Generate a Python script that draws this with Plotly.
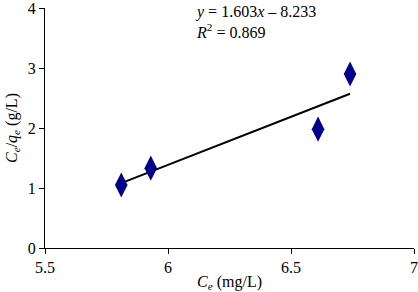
import plotly.graph_objects as go
import numpy as np

ce = [5.81, 5.93, 6.61, 6.74]
ce_qe = [1.05, 1.33, 1.98, 2.90]
slope = 1.603
intercept = -8.233
r2 = 0.869

x_line = np.array([min(ce), max(ce)])
y_line = slope * x_line + intercept

FONT = "Liberation Serif"

fig = go.Figure()
fig.add_trace(go.Scatter(x=x_line, y=y_line, mode="lines",
                         line=dict(color="black", width=2), showlegend=False))
fig.add_trace(go.Scatter(x=ce, y=ce_qe, mode="markers",
                         marker=dict(symbol="diamond-tall", size=18, color="#00008B"),
                         showlegend=False))

fig.add_annotation(x=0.40, y=1.03, xref="paper", yref="paper", xanchor="left", yanchor="top",
                   align="left", showarrow=False,
                   text=f"<i>y</i> = {slope}<i>x</i> – {abs(intercept)}<br><i>R</i><sup>2</sup> = {r2}",
                   font=dict(family=FONT, size=16, color="black"))

fig.update_layout(
    width=418, height=292,
    margin=dict(l=45, r=4, t=8, b=44, autoexpand=False),
    plot_bgcolor="white", paper_bgcolor="white",
    font=dict(family=FONT, size=16, color="black"),
    xaxis=dict(range=[5.5, 7], tickvals=[5.5, 6, 6.5, 7], ticktext=["5.5", "6", "6.5", "7"],
               showgrid=False, zeroline=False, showline=True, linecolor="black", linewidth=1,
               ticks="outside", ticklen=5, tickcolor="black", automargin=False,
               ticklabeloverflow="allow",
               title=dict(text="<i>C</i><sub><i>e</i></sub> (mg/L)", standoff=0,
                          font=dict(family=FONT, size=16))),
    yaxis=dict(range=[0, 4], tickvals=[0, 1, 2, 3, 4],
               showgrid=False, zeroline=False, showline=True, linecolor="black", linewidth=1,
               ticks="outside", ticklen=5, tickcolor="black", automargin=False,
               ticklabeloverflow="allow",
               title=dict(text="<i>C</i><sub><i>e</i></sub>/<i>q</i><sub><i>e</i></sub> (g/L)", standoff=6,
                          font=dict(family=FONT, size=16))),
)

fig.write_html("out.html", config={"displayModeBar": False},
               post_script="document.body.style.margin='0';document.body.style.padding='0';")
